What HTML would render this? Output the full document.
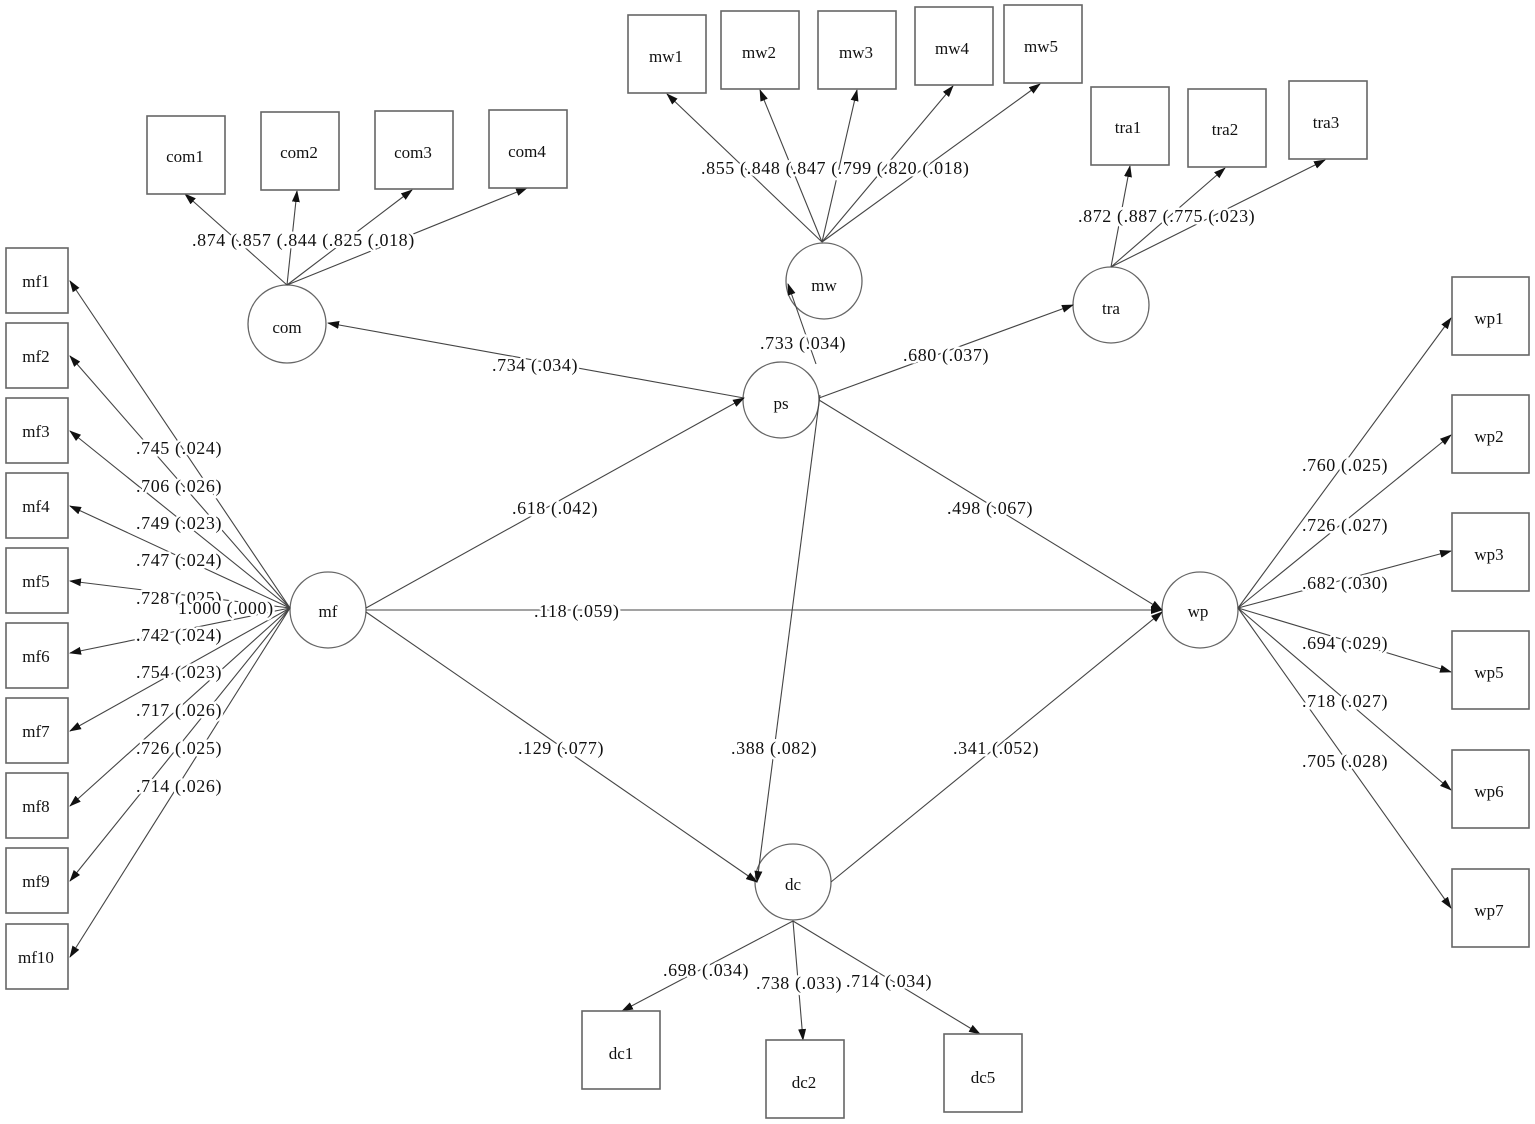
<!DOCTYPE html>
<html><head><meta charset="utf-8"><style>
html,body{margin:0;padding:0;background:#fff;}
svg{display:block;}
text{font-family:"Liberation Serif",serif;font-size:18px;fill:#111;letter-spacing:0.6px;}
.l{stroke:#fff;stroke-width:5px;paint-order:stroke;stroke-linejoin:round;}
.n text{text-anchor:middle;font-size:17px;letter-spacing:0;}
line{stroke:#444;stroke-width:1.1;marker-end:url(#a);}
rect{fill:#fff;stroke:#666;stroke-width:1.6;}
circle{fill:#fff;stroke:#666;stroke-width:1.3;}
</style></head><body>
<svg width="1535" height="1124" viewBox="0 0 1535 1124" xmlns="http://www.w3.org/2000/svg">
<defs><marker id="a" markerWidth="12" markerHeight="8" refX="11" refY="4" orient="auto" markerUnits="userSpaceOnUse"><path d="M0,0 L12,4 L0,8 Z" fill="#111"/></marker></defs>

<circle cx="287" cy="324" r="39"/><circle cx="824" cy="281" r="38"/>
<circle cx="1111" cy="305" r="38"/><circle cx="781" cy="400" r="38"/>
<circle cx="328" cy="610" r="38"/><circle cx="1200" cy="610" r="38"/>
<circle cx="793" cy="882" r="38"/>

<!-- mf edges -->
<line x1="290" y1="608" x2="70" y2="281"/>
<line x1="290" y1="608" x2="70" y2="356"/>
<line x1="290" y1="608" x2="70" y2="431"/>
<line x1="290" y1="608" x2="70" y2="506"/>
<line x1="290" y1="608" x2="70" y2="581"/>
<line x1="290" y1="608" x2="70" y2="653"/>
<line x1="290" y1="608" x2="70" y2="731"/>
<line x1="290" y1="608" x2="70" y2="806"/>
<line x1="290" y1="608" x2="70" y2="881"/>
<line x1="290" y1="608" x2="70" y2="957"/>
<!-- com edges -->
<line x1="287" y1="285" x2="185" y2="194"/>
<line x1="287" y1="285" x2="297" y2="191"/>
<line x1="287" y1="285" x2="412" y2="190"/>
<line x1="287" y1="285" x2="527" y2="188"/>
<!-- mw edges -->
<line x1="822" y1="242" x2="667" y2="94"/>
<line x1="822" y1="242" x2="760" y2="90"/>
<line x1="822" y1="242" x2="857" y2="90"/>
<line x1="822" y1="242" x2="953" y2="86"/>
<line x1="822" y1="242" x2="1040" y2="84"/>
<!-- tra edges -->
<line x1="1111" y1="267" x2="1130" y2="166"/>
<line x1="1111" y1="267" x2="1225" y2="168"/>
<line x1="1111" y1="267" x2="1325" y2="160"/>
<!-- structural -->
<line x1="744" y1="398" x2="328" y2="323"/>
<line x1="819" y1="398" x2="1073" y2="305"/>
<line x1="819" y1="400" x2="1162" y2="610"/>
<line x1="366" y1="608" x2="744" y2="398"/>
<line x1="366" y1="610" x2="1162" y2="610"/>
<line x1="366" y1="612" x2="757" y2="882"/>
<line x1="831" y1="882" x2="1162" y2="612"/>
<line x1="820" y1="395" x2="757" y2="882"/>
<line x1="816" y1="364" x2="788" y2="284"/>
<!-- wp edges -->
<line x1="1238" y1="608" x2="1451" y2="318"/>
<line x1="1238" y1="608" x2="1451" y2="435"/>
<line x1="1238" y1="608" x2="1451" y2="551"/>
<line x1="1238" y1="608" x2="1451" y2="672"/>
<line x1="1238" y1="608" x2="1451" y2="790"/>
<line x1="1238" y1="608" x2="1451" y2="908"/>
<!-- dc edges -->
<line x1="793" y1="921" x2="622" y2="1011"/>
<line x1="793" y1="921" x2="803" y2="1040"/>
<line x1="793" y1="921" x2="980" y2="1034"/>

<!-- labels -->
<g class="l">
<text x="136" y="454">.745 (.024)</text>
<text x="136" y="492">.706 (.026)</text>
<text x="136" y="529">.749 (.023)</text>
<text x="136" y="566">.747 (.024)</text>
<text x="136" y="604">.728 (.025)</text>
<text x="178" y="614">1.000 (.000)</text>
<text x="136" y="641">.742 (.024)</text>
<text x="136" y="678">.754 (.023)</text>
<text x="136" y="716">.717 (.026)</text>
<text x="136" y="754">.726 (.025)</text>
<text x="136" y="792">.714 (.026)</text>
<text x="192" y="246">.874 (.857 (.844 (.825 (.018)</text>
<text x="701" y="174">.855 (.848 (.847 (.799 (.820 (.018)</text>
<text x="1078" y="222">.872 (.887 (.775 (.023)</text>
<text x="492" y="371">.734 (.034)</text>
<text x="760" y="349">.733 (.034)</text>
<text x="903" y="361">.680 (.037)</text>
<text x="512" y="514">.618 (.042)</text>
<text x="947" y="514">.498 (.067)</text>
<text x="534" y="617">.118 (.059)</text>
<text x="518" y="754">.129 (.077)</text>
<text x="731" y="754">.388 (.082)</text>
<text x="953" y="754">.341 (.052)</text>
<text x="1302" y="471">.760 (.025)</text>
<text x="1302" y="531">.726 (.027)</text>
<text x="1302" y="589">.682 (.030)</text>
<text x="1302" y="649">.694 (.029)</text>
<text x="1302" y="707">.718 (.027)</text>
<text x="1302" y="767">.705 (.028)</text>
<text x="663" y="976">.698 (.034)</text>
<text x="756" y="989">.738 (.033)</text>
<text x="846" y="987">.714 (.034)</text>
</g>

<!-- boxes -->
<g>
<rect x="6" y="248" width="62" height="65"/><rect x="6" y="323" width="62" height="65"/>
<rect x="6" y="398" width="62" height="65"/><rect x="6" y="473" width="62" height="65"/>
<rect x="6" y="548" width="62" height="65"/><rect x="6" y="623" width="62" height="65"/>
<rect x="6" y="698" width="62" height="65"/><rect x="6" y="773" width="62" height="65"/>
<rect x="6" y="848" width="62" height="65"/><rect x="6" y="924" width="62" height="65"/>
<rect x="147" y="116" width="78" height="78"/><rect x="261" y="112" width="78" height="78"/>
<rect x="375" y="111" width="78" height="78"/><rect x="489" y="110" width="78" height="78"/>
<rect x="628" y="15" width="78" height="78"/><rect x="721" y="11" width="78" height="78"/>
<rect x="818" y="11" width="78" height="78"/><rect x="915" y="7" width="78" height="78"/>
<rect x="1004" y="5" width="78" height="78"/>
<rect x="1091" y="87" width="78" height="78"/><rect x="1188" y="89" width="78" height="78"/>
<rect x="1289" y="81" width="78" height="78"/>
<rect x="1452" y="277" width="77" height="78"/><rect x="1452" y="395" width="77" height="78"/>
<rect x="1452" y="513" width="77" height="78"/><rect x="1452" y="631" width="77" height="78"/>
<rect x="1452" y="750" width="77" height="78"/><rect x="1452" y="869" width="77" height="78"/>
<rect x="582" y="1011" width="78" height="78"/><rect x="766" y="1040" width="78" height="78"/>
<rect x="944" y="1034" width="78" height="78"/>
</g>

<g class="n">
<text x="36" y="287">mf1</text><text x="36" y="362">mf2</text><text x="36" y="437">mf3</text>
<text x="36" y="512">mf4</text><text x="36" y="587">mf5</text><text x="36" y="662">mf6</text>
<text x="36" y="737">mf7</text><text x="36" y="812">mf8</text><text x="36" y="887">mf9</text>
<text x="36" y="963">mf10</text>
<text x="185" y="162">com1</text><text x="299" y="158">com2</text><text x="413" y="158">com3</text><text x="527" y="157">com4</text>
<text x="666" y="62">mw1</text><text x="759" y="58">mw2</text><text x="856" y="58">mw3</text>
<text x="952" y="54">mw4</text><text x="1041" y="52">mw5</text>
<text x="1128" y="133">tra1</text><text x="1225" y="135">tra2</text><text x="1326" y="128">tra3</text>
<text x="1489" y="324">wp1</text><text x="1489" y="442">wp2</text><text x="1489" y="560">wp3</text>
<text x="1489" y="678">wp5</text><text x="1489" y="797">wp6</text><text x="1489" y="916">wp7</text>
<text x="621" y="1059">dc1</text><text x="804" y="1088">dc2</text><text x="983" y="1083">dc5</text>
<text x="287" y="333">com</text><text x="824" y="291">mw</text><text x="1111" y="314">tra</text>
<text x="781" y="409">ps</text><text x="328" y="617">mf</text><text x="1198" y="617">wp</text>
<text x="793" y="890">dc</text>
</g>
</svg>
</body></html>
